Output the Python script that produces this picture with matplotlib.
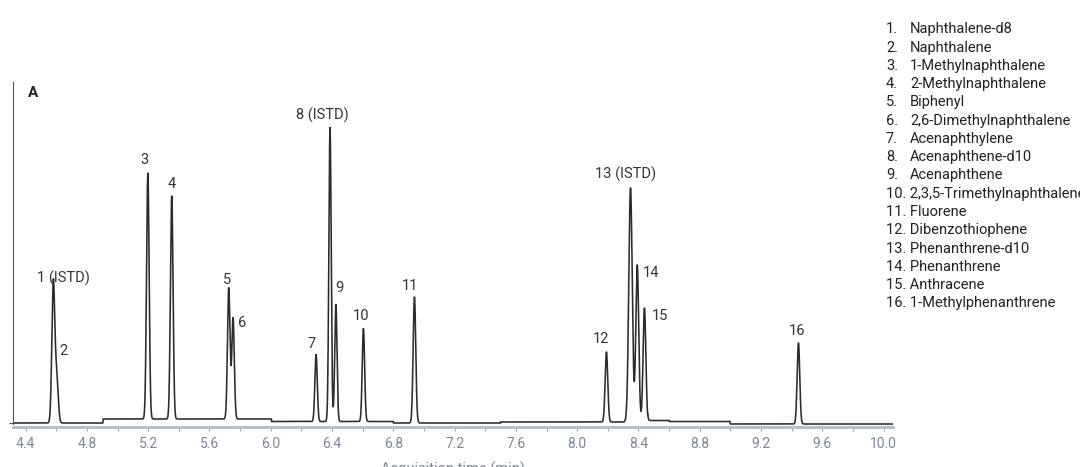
import numpy as np
import matplotlib
matplotlib.use('Agg')
from matplotlib import pyplot as plt

plt.rcParams['font.family'] = ['Roboto', 'DejaVu Sans']

# peak data (retention time in min, height above baseline, width sigma)
peak_ids = ['1 (ISTD)', '2', '3', '4', '5', '6', '7', '8 (ISTD)', '9', '10',
            '11', '12', '13 (ISTD)', '14', '15', '16']
peak_rt = [4.581, 4.603, 5.198, 5.354, 5.726, 5.754, 6.296, 6.387, 6.425, 6.605,
           6.938, 8.191, 8.348, 8.392, 8.439, 9.444]
peak_height = [140, 45, 246, 223, 131, 101, 67, 294, 117, 93,
               126, 70, 234, 157, 114, 81]
peak_sigma = [0.0095, 0.010, 0.0085, 0.0085, 0.0082, 0.0082, 0.0078, 0.0075, 0.0075, 0.0078,
              0.0085, 0.0085, 0.0112, 0.0095, 0.0090, 0.0085]

# baseline segments (start time, level)
base_start = [4.30, 4.905, 6.005, 6.80, 7.50, 8.46, 8.60, 8.998]
base_level = [0, 4, 1.5, 0, 1, 2.5, 1.5, -1]

compounds = ['Naphthalene-d8', 'Naphthalene', '1-Methylnaphthalene', '2-Methylnaphthalene',
             'Biphenyl', '2,6-Dimethylnaphthalene', 'Acenaphthylene', 'Acenaphthene-d10',
             'Acenaphthene', '2,3,5-Trimethylnaphthalene', 'Fluorene', 'Dibenzothiophene',
             'Phenanthrene-d10', 'Phenanthrene', 'Anthracene', '1-Methylphenanthrene']

xticks = [4.4, 4.8, 5.2, 5.6, 6.0, 6.4, 6.8, 7.2, 7.6, 8.0, 8.4, 8.8, 9.2, 9.6, 10.0]

# label offsets in pixels from each peak apex
label_dx = [10, 7, -3, 0, -2, 9, -5, -8, 4, -2, -4, -5, -5, 14, 16, -1]
label_dy = [5, 27, 13, 12, 8, -5, 11, 12, 17, 12, 11, 13, 14, -8, -8, 12]

t = np.linspace(4.318, 10.061, 8000)
idx = np.searchsorted(base_start, t, side='right') - 1
signal = np.array(base_level, dtype=float)[idx]
for rt, h, s in zip(peak_rt, peak_height, peak_sigma):
    signal += h * np.exp(-0.5 * ((t - rt) / s) ** 2)

fig = plt.figure(figsize=(10.8, 4.67), dpi=100)
ax = fig.add_axes([13 / 1080, 40 / 467, 880 / 1080, 345 / 467])
ax.plot(t, signal, color='#2b2b2b', lw=1.15)
ax.set_xlim(4.318, 10.061)
ax.set_ylim(-4, 341)

for name, rt, h, dx, dy in zip(peak_ids, peak_rt, peak_height, label_dx, label_dy):
    lvl = base_level[np.searchsorted(base_start, rt, side='right') - 1]
    ax.annotate(name, (rt, h + lvl), xytext=(dx, dy), textcoords='offset pixels',
                ha='center', va='center', fontsize=10.5, color='#333333')

ax.text(32.7 / 1080, 1 - 93.3 / 467, 'A', transform=fig.transFigure, fontsize=11,
        fontweight='bold', ha='center', va='center', color='#222222')

for sp in ['top', 'right']:
    ax.spines[sp].set_visible(False)
ax.spines['bottom'].set_color('#b9bec6')
ax.spines['bottom'].set_linewidth(2.2)
ax.spines['left'].set_color('#555555')
ax.spines['left'].set_linewidth(0.8)
ax.spines['left'].set_bounds(-1, 341)

ax.set_xticks(xticks)
ax.set_xticklabels([f'{v:.1f}' for v in xticks])
ax.set_xticks(np.arange(4.6, 10.0, 0.4), minor=True)
ax.tick_params(axis='x', which='both', direction='out', length=3, width=0.8,
               color='#9aa0a8', labelsize=10, labelcolor='#7d8694', pad=4)
ax.set_yticks([0])
ax.set_yticklabels([])
ax.tick_params(axis='y', length=3, width=0.8, color='#555555')
ax.set_xlabel('Acquisition time (min)', fontsize=10.5, color='#7d8694', labelpad=8)

y0 = 29.3
for i, name in enumerate(compounds):
    y = 1 - (y0 + i * 18.27) / 467
    if i < 9:
        fig.text(886 / 1080, y, f'{i + 1}.', fontsize=10.5, va='center', color='#222222')
        fig.text(910 / 1080, y, name, fontsize=10.5, va='center', color='#222222')
    else:
        fig.text(886 / 1080, y, f'{i + 1}. {name}', fontsize=10.5, va='center', color='#222222')

fig.savefig('out.png', dpi=100)
